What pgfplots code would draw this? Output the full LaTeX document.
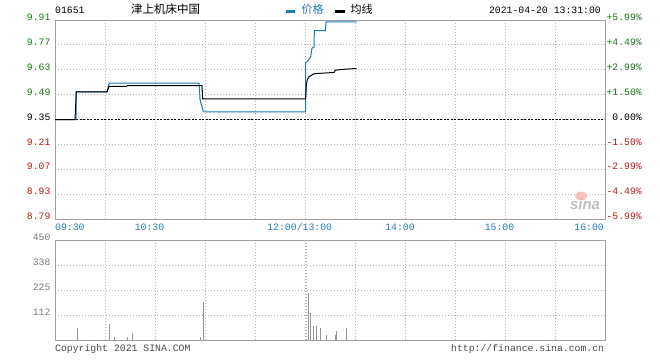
\documentclass[border=0pt]{standalone}
\usepackage{fontspec}
\setmainfont{Liberation Mono}
\newfontfamily\cjk{Noto Sans CJK SC}
\newfontfamily\sinafont{Liberation Sans}
\usepackage{pgfplots}
\pgfplotsset{compat=1.18}
\definecolor{pblue}{RGB}{30,122,176}
\definecolor{pgreen}{RGB}{25,120,25}
\definecolor{pred}{RGB}{185,25,25}
\definecolor{framegray}{RGB}{160,160,160}
\definecolor{gridgray}{RGB}{180,180,180}
\definecolor{lblgray}{RGB}{125,125,125}
\definecolor{txtblue}{RGB}{35,125,185}
\definecolor{barcol}{RGB}{150,150,150}
\newcommand\tf{\fontsize{9.8pt}{10pt}\selectfont}
\begin{document}
\begin{tikzpicture}
\fill[white] (0pt,0pt) rectangle (660pt,-360pt);
% ---------- price panel ----------
\begin{axis}[
  at={(55pt,-219pt)}, anchor=south west, scale only axis,
  width=550pt, height=199pt,
  xmin=0, xmax=330, ymin=8.79, ymax=9.91,
  xtick={0,30,...,330}, xticklabel=\relax,
  ytick={8.79,8.93,9.07,9.21,9.35,9.49,9.63,9.77,9.91},
  yticklabels={\textcolor{pred}{8.79},\textcolor{pred}{8.93},\textcolor{pred}{9.07},\textcolor{pred}{9.21},9.35,\textcolor{pgreen}{9.49},\textcolor{pgreen}{9.63},\textcolor{pgreen}{9.77},\textcolor{pgreen}{9.91}},
  yticklabel style={font=\tf, inner sep=0pt, xshift=-4.3pt, yshift=2.5pt},
  grid=major,
  major grid style={gridgray, line width=1pt, dash pattern=on 1pt off 2pt},
  axis line style={framegray, line width=1pt},
  major tick length=0pt,
]
\addplot[black, line width=1pt, dash pattern=on 2pt off 1.5pt] coordinates {(0,9.35) (330,9.35)};
\addplot[pblue, line width=1pt] coordinates {
(0,9.35) (12.6,9.35) (12.6,9.505) (31.2,9.505) (31.8,9.53) (32.6,9.555)
(86.4,9.555) (86.7,9.52) (87,9.466) (87.6,9.44) (88.4,9.416) (89,9.393)
(150.4,9.393) (150.4,9.671) (151.4,9.676) (153.4,9.703) (154.2,9.752)
(155.4,9.757) (155.6,9.85) (162.2,9.85) (162.6,9.90) (181,9.90)};
\addplot[black, line width=1pt] coordinates {
(0,9.35) (12,9.35) (12.8,9.505) (31.2,9.505) (32.4,9.537) (43,9.537)
(43.5,9.541) (88.2,9.541) (88.6,9.466) (150.4,9.466) (150.8,9.546)
(151.4,9.574) (152.2,9.589) (153.4,9.596) (155,9.606) (157,9.609)
(161,9.611) (167.6,9.615) (168.2,9.628) (175,9.634) (181,9.637)};
\end{axis}
% right percentage labels
\begin{axis}[
  at={(55pt,-219pt)}, anchor=south west, scale only axis,
  width=550pt, height=199pt,
  xmin=0, xmax=330, ymin=8.79, ymax=9.91,
  axis x line=none, axis y line*=right,
  y axis line style={draw=none},
  major tick length=0pt,
  ytick={8.79,8.93,9.07,9.21,9.35,9.49,9.63,9.77,9.91},
  yticklabels={\textcolor{pred}{-5.99\%},\textcolor{pred}{-4.49\%},\textcolor{pred}{-2.99\%},\textcolor{pred}{-1.50\%},0.00\%,\textcolor{pgreen}{+1.50\%},\textcolor{pgreen}{+2.99\%},\textcolor{pgreen}{+4.49\%},\textcolor{pgreen}{+5.99\%}},
  yticklabel style={font=\tf, anchor=east, inner sep=0pt, xshift=37pt, yshift=2.5pt},
]
\end{axis}
% ---------- volume panel ----------
\begin{axis}[
  at={(55pt,-340pt)}, anchor=south west, scale only axis,
  width=550pt, height=100pt,
  xmin=0, xmax=330, ymin=0, ymax=450,
  xtick={0,30,...,330}, xticklabel=\relax,
  extra x ticks={150.7},
  ytick={112.5,225,337.5,450},
  yticklabels={112,225,338,450},
  yticklabel style={font=\tf, text=lblgray, inner sep=0pt, xshift=-4.3pt, yshift=2.5pt},
  grid=major,
  major grid style={gridgray, line width=1pt, dash pattern=on 1pt off 2pt},
  axis line style={framegray, line width=1pt},
  major tick length=0pt,
]
\addplot[ycomb, barcol, line width=1pt] coordinates {
(13.4,55) (32.6,72) (35.6,15) (43.4,15) (46.4,31) (87.2,15) (89,172)
(152,213) (153.2,122) (155,64) (156.8,64) (159.2,54) (162.8,24)
(168.2,22) (168.8,40) (174.8,54)};
\end{axis}
% ---------- texts ----------
\node[anchor=west, inner sep=0pt, font=\tf] at (55pt,-10pt) {01651};
\node[anchor=west, inner sep=0pt, font=\cjk\fontsize{11.5pt}{12pt}\selectfont] at (131pt,-9.3pt) {津上机床中国};
\draw[pblue, line width=3pt] (286pt,-11pt) -- (295pt,-11pt);
\node[anchor=west, inner sep=0pt, text=pblue, font=\cjk\fontsize{11pt}{12pt}\selectfont] at (301.5pt,-9.3pt) {价格};
\draw[black, line width=3pt] (335pt,-11pt) -- (345pt,-11pt);
\node[anchor=west, inner sep=0pt, font=\cjk\fontsize{11pt}{12pt}\selectfont] at (350.5pt,-9.3pt) {均线};
\node[anchor=east, inner sep=0pt, font=\tf] at (601pt,-10pt) {2021-04-20 13:31:00};
% time labels
\node[anchor=west, inner sep=0pt, font=\tf, text=txtblue] at (55pt,-227pt) {09:30};
\node[inner sep=0pt, font=\tf, text=txtblue] at (149.5pt,-227pt) {10:30};
\node[inner sep=0pt, font=\tf, text=txtblue] at (299.7pt,-227pt) {12:00/13:00};
\node[inner sep=0pt, font=\tf, text=txtblue] at (400pt,-227pt) {14:00};
\node[inner sep=0pt, font=\tf, text=txtblue] at (499.5pt,-227pt) {15:00};
\node[anchor=east, inner sep=0pt, font=\tf, text=txtblue] at (604pt,-227pt) {16:00};
% footer
\node[anchor=west, inner sep=0pt, font=\tf, text=black!70] at (55pt,-349pt) {Copyright 2021 SINA.COM};
\node[anchor=east, inner sep=0pt, font=\tf, text=black!70] at (604.3pt,-349pt) {http://finance.sina.com.cn};
% watermark
\fill[red!25] (581pt,-196pt) ellipse (6pt and 4.5pt);
\node[inner sep=0pt, font=\sinafont\bfseries\itshape\fontsize{15pt}{15pt}\selectfont, text=black!25] at (585pt,-204pt) {sina};
\end{tikzpicture}
\end{document}
